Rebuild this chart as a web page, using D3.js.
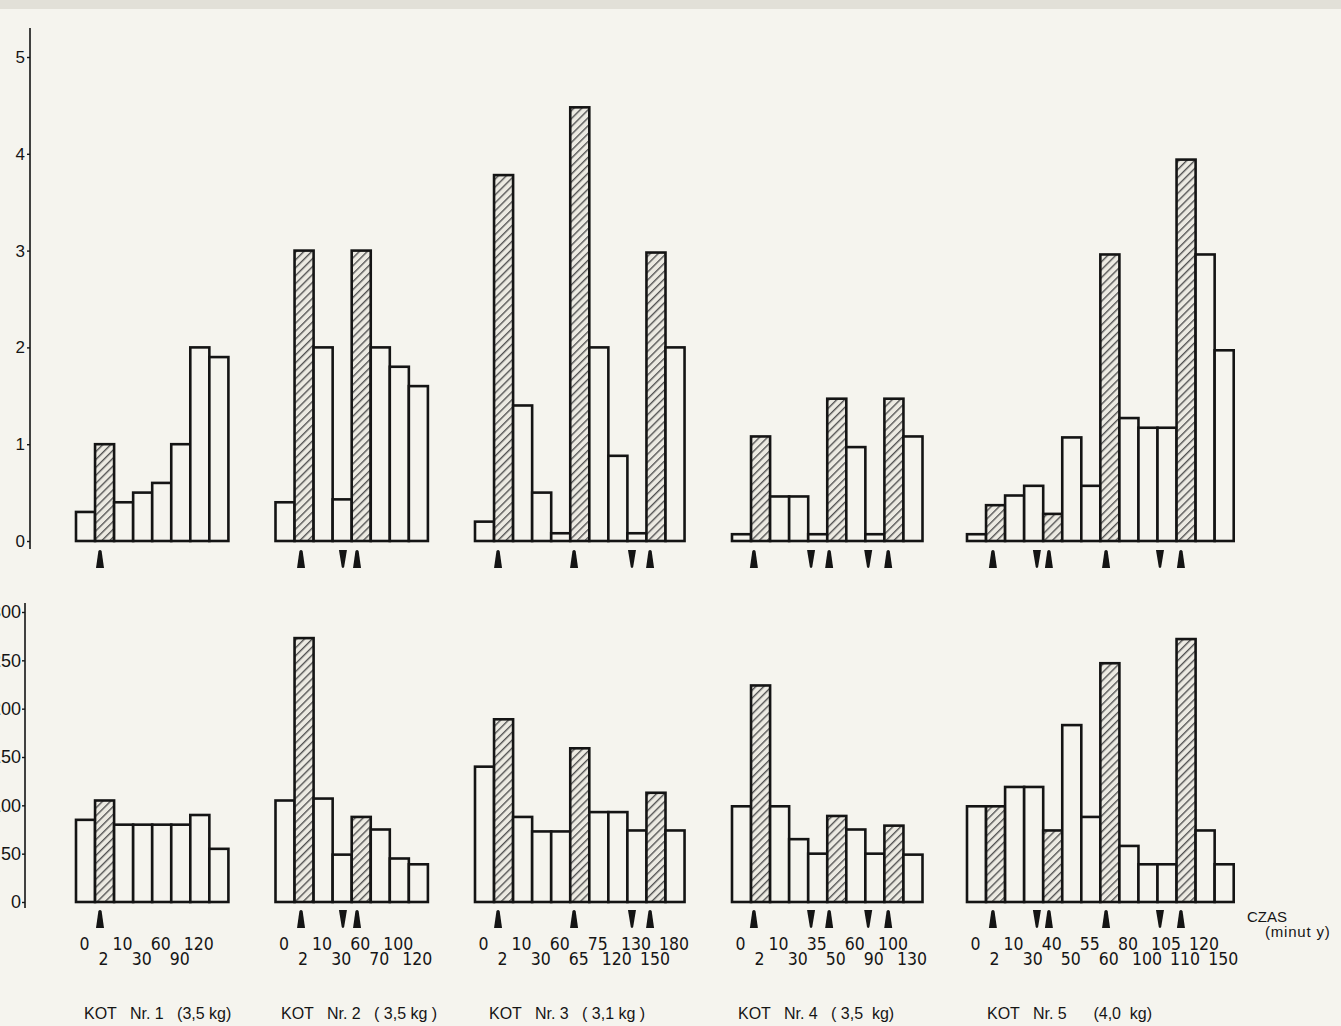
<!DOCTYPE html>
<html>
<head>
<meta charset="utf-8">
<script src="https://cdn.jsdelivr.net/npm/d3@7"></script>
<style>
  html, body { margin: 0; padding: 0; background: #f5f4ee; }
  svg { display: block; }
  .num { font-family: "Liberation Sans Narrow", "DejaVu Sans Condensed", "Liberation Sans", sans-serif; fill: #151515; }
  .lbl { font-family: "Liberation Sans", "DejaVu Sans", sans-serif; fill: #151515; }
</style>
</head>
<body>
<svg id="chart" width="1341" height="1026"></svg>
<script>
// ---------------- data ----------------
const titles = [
  "KOT   Nr. 1   (3,5 kg)",
  "KOT   Nr. 2   ( 3,5 kg )",
  "KOT   Nr. 3   ( 3,1 kg )",
  "KOT   Nr. 4   ( 3,5  kg)",
  "KOT   Nr. 5      (4,0  kg)"
];
const times1 = ["0", "2", "10", "30", "60", "90", "120"];
const times2 = ["0", "2", "10", "30", "60", "70", "100", "120"];
const times3 = ["0", "2", "10", "30", "60", "65", "75", "120", "130", "150", "180"];
const times4 = ["0", "2", "10", "30", "35", "50", "60", "90", "100", "130"];
const times5 = ["0", "2", "10", "30", "40", "50", "55", "60", "80", "100", "105", "110", "120", "150"];

// upper panel values
const top1 = [0.3, 1.0, 0.4, 0.5, 0.6, 1.0, 2.0, 1.9];
const top2 = [0.4, 3.0, 2.0, 0.43, 3.0, 2.0, 1.8, 1.6];
const top3 = [0.2, 3.78, 1.4, 0.5, 0.08, 4.48, 2.0, 0.88, 0.08, 2.98, 2.0];
const top4 = [0.07, 1.08, 0.46, 0.46, 0.07, 1.47, 0.97, 0.07, 1.47, 1.08];
const top5 = [0.07, 0.37, 0.47, 0.57, 0.28, 1.07, 0.57, 2.96, 1.27, 1.17, 1.17, 3.94, 2.96, 1.97];

// lower panel values
const bot1 = [85, 105, 80, 80, 80, 80, 90, 55];
const bot2 = [105, 273, 107, 49, 88, 75, 45, 39];
const bot3 = [140, 189, 88, 73, 73, 159, 93, 93, 74, 113, 74];
const bot4 = [99, 224, 99, 65, 50, 89, 75, 50, 79, 49];
const bot5 = [99, 99, 119, 119, 74, 183, 88, 247, 58, 39, 39, 272, 74, 39];

// hatched (stimulated) bar indices
const hatch1 = [1];
const hatch2 = [1, 4];
const hatch3 = [1, 5, 9];
const hatch4 = [1, 5, 8];
const hatch5 = [1, 4, 7, 11];

// markers: position in bar units, direction
const marks1 = [[1.26, "up"]];
const marks2 = [[1.34, "up"], [3.54, "down"], [4.28, "up"]];
const marks3 = [[1.21, "up"], [5.2, "up"], [8.24, "down"], [9.19, "up"]];
const marks4 = [[1.15, "up"], [4.15, "down"], [5.1, "up"], [7.15, "down"], [8.2, "up"]];
const marks5 = [[1.36, "up"], [3.67, "down"], [4.3, "up"], [7.3, "up"], [10.13, "down"], [11.23, "up"]];

const topTicks = [0, 1, 2, 3, 4, 5];
const botTicks = [0, 50, 100, 150, 200, 250, 300];
const axisTitle1 = "CZAS";
const axisTitle2 = "(minut y)";

// ---------------- layout ----------------
const groups = [
  {title: titles[0], times: times1, top: top1, bot: bot1, hatch: hatch1, marks: marks1},
  {title: titles[1], times: times2, top: top2, bot: bot2, hatch: hatch2, marks: marks2},
  {title: titles[2], times: times3, top: top3, bot: bot3, hatch: hatch3, marks: marks3},
  {title: titles[3], times: times4, top: top4, bot: bot4, hatch: hatch4, marks: marks4},
  {title: titles[4], times: times5, top: top5, bot: bot5, hatch: hatch5, marks: marks5}
];
const groupStart = [76, 275.5, 475, 732, 967];
const titleX = [84, 281, 489, 738, 987];
const bw = 19.05;
const ink = "#141414";
const paper = "#f5f4ee";

const svg = d3.select("#chart");
svg.append("rect").attr("width", 1341).attr("height", 1026).attr("fill", paper);
svg.append("rect").attr("width", 1341).attr("height", 9).attr("fill", "#e2e0d8");

const defs = svg.append("defs");
const pat = defs.append("pattern")
  .attr("id", "hatch").attr("patternUnits", "userSpaceOnUse")
  .attr("width", 5.6).attr("height", 10)
  .attr("patternTransform", "rotate(45)");
pat.append("rect").attr("width", 5.6).attr("height", 10).attr("fill", "#eceae2");
pat.append("line").attr("x1", 0.7).attr("y1", 0).attr("x2", 0.7).attr("y2", 10)
  .attr("stroke", "#4a4a4a").attr("stroke-width", 1.3);

const yTop = d3.scaleLinear().domain([0, 5]).range([541, 57]);
const yBot = d3.scaleLinear().domain([0, 300]).range([902, 612]);

// axes
const axTop = svg.append("g").attr("transform", "translate(30,0)")
  .call(d3.axisLeft(yTop).tickValues(topTicks).tickSize(3).tickPadding(2).tickFormat(d3.format("d")));
axTop.select(".domain").remove();
axTop.append("line").attr("x1", 0).attr("x2", 0).attr("y1", 28).attr("y2", 549)
  .attr("stroke", ink).attr("stroke-width", 1.6);
axTop.selectAll(".tick line").attr("stroke", ink).attr("stroke-width", 1.4);
axTop.selectAll(".tick text").attr("class", "lbl").attr("font-size", 17).attr("fill", ink);

const axBot = svg.append("g").attr("transform", "translate(25,0)")
  .call(d3.axisLeft(yBot).tickValues(botTicks).tickSize(3).tickPadding(1).tickFormat(d3.format("d")));
axBot.select(".domain").remove();
axBot.append("line").attr("x1", 0).attr("x2", 0).attr("y1", 603).attr("y2", 908)
  .attr("stroke", ink).attr("stroke-width", 1.6);
axBot.selectAll(".tick line").attr("stroke", ink).attr("stroke-width", 1.4);
axBot.selectAll(".tick text").attr("class", "lbl").attr("font-size", 18).attr("fill", ink);

function markerPath(dir) {
  // narrow wedge, 18 px tall
  if (dir === "up") return "M-4,18 L4,18 L1.6,1 Q0,-1 -1.6,1 Z";
  return "M-4,0 L4,0 L1.2,17 Q0,19 -1.2,17 Z";
}

groups.forEach((g, gi) => {
  const n = g.top.length;
  const x0 = groupStart[gi];
  const xb = d3.scaleBand().domain(d3.range(n)).range([x0, x0 + n * bw]).padding(0);
  const xm = d3.scaleLinear().domain([0, n]).range([x0, x0 + n * bw]);
  const hatched = new Set(g.hatch);

  [[g.top, yTop, 550], [g.bot, yBot, 910]].forEach(([vals, y, my]) => {
    const gg = svg.append("g");
    gg.selectAll("rect.bar").data(vals).join("rect")
      .attr("class", "bar")
      .attr("x", (d, i) => xb(i))
      .attr("y", d => y(d))
      .attr("width", xb.bandwidth())
      .attr("height", d => y(0) - y(d))
      .attr("fill", (d, i) => hatched.has(i) ? "url(#hatch)" : paper)
      .attr("stroke", ink).attr("stroke-width", 2.6)
      .attr("stroke-linejoin", "miter");
    gg.selectAll("path.mk").data(g.marks).join("path")
      .attr("class", "mk")
      .attr("transform", d => `translate(${xm(d[0])},${my})`)
      .attr("d", d => markerPath(d[1]))
      .attr("fill", ink);
  });

  // time labels, alternating rows
  svg.append("g").selectAll("text").data(g.times).join("text")
    .attr("class", "num")
    .attr("x", (d, i) => xb(i) + xb.bandwidth() / 2 - 1)
    .attr("y", (d, i) => i % 2 === 0 ? 950 : 965)
    .attr("text-anchor", "middle")
    .attr("font-size", 17.5)
    .text(d => d);

  svg.append("text").attr("class", "lbl")
    .attr("x", titleX[gi]).attr("y", 1019)
    .attr("font-size", 16)
    .style("white-space", "pre")
    .text(g.title);
});

svg.append("text").attr("class", "lbl").attr("x", 1247).attr("y", 922)
  .attr("font-size", 15).text(axisTitle1);
svg.append("text").attr("class", "lbl").attr("x", 1265).attr("y", 937)
  .attr("font-size", 15).attr("letter-spacing", 0.8)
  .style("white-space", "pre").text(axisTitle2);
</script>
</body>
</html>
